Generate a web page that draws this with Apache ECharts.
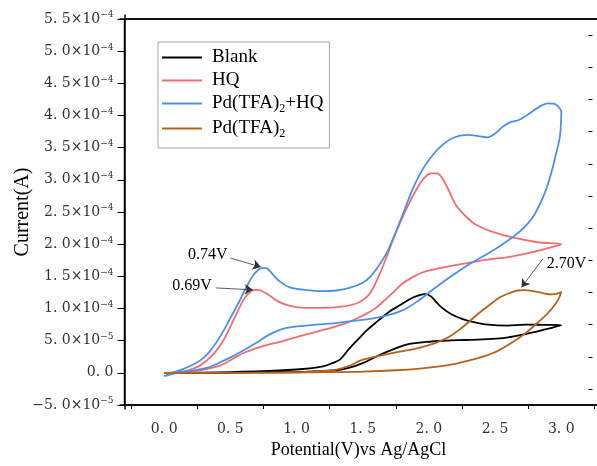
<!DOCTYPE html>
<html>
<head>
<meta charset="utf-8">
<script src="https://cdn.jsdelivr.net/npm/echarts@6/dist/echarts.min.js"></script>
<style>
  html, body { margin: 0; padding: 0; background: #fff; }
  #chart { width: 597px; height: 466px; }
</style>
</head>
<body>
<div id="chart"></div>
<script>
// potential (V) / current (x1e-4 A), forward sweep then return sweep
const blankCurve = [
  [0, 0], [0.5, 0.01], [0.9, 0.04], [1.10, 0.07], [1.20, 0.10], [1.27, 0.15], [1.33, 0.21],
  [1.40, 0.38], [1.47, 0.53], [1.53, 0.66], [1.61, 0.80], [1.70, 0.95], [1.78, 1.05],
  [1.88, 1.17], [1.95, 1.22], [1.98, 1.225], [2.02, 1.18], [2.06, 1.09], [2.10, 1.01],
  [2.17, 0.91], [2.25, 0.84], [2.34, 0.79], [2.45, 0.75], [2.59, 0.735], [2.73, 0.75],
  [2.87, 0.745], [3.00, 0.74],
  [2.85, 0.66], [2.70, 0.59], [2.56, 0.54], [2.41, 0.52], [2.27, 0.51], [2.13, 0.50],
  [1.98, 0.48], [1.83, 0.44], [1.70, 0.34], [1.60, 0.25], [1.50, 0.15], [1.40, 0.08],
  [1.30, 0.04], [1.10, 0.02], [0.80, 0.01], [0.40, 0], [0, 0]
];
const hqCurve = [
  [0, 0], [0.10, 0.01], [0.18, 0.04], [0.26, 0.10], [0.32, 0.19], [0.38, 0.31], [0.44, 0.48],
  [0.50, 0.72], [0.56, 0.98], [0.61, 1.17], [0.66, 1.27], [0.69, 1.29], [0.73, 1.28],
  [0.79, 1.21], [0.86, 1.11], [0.95, 1.04], [1.06, 1.01], [1.20, 1.01], [1.34, 1.03],
  [1.44, 1.07], [1.50, 1.13], [1.56, 1.25], [1.62, 1.50], [1.68, 1.80], [1.75, 2.18],
  [1.83, 2.55], [1.90, 2.83], [1.96, 3.02], [2.02, 3.10], [2.06, 3.10], [2.10, 3.03],
  [2.14, 2.88], [2.20, 2.62], [2.27, 2.45], [2.35, 2.31], [2.47, 2.20], [2.64, 2.10],
  [2.82, 2.03], [3.00, 2.00],
  [2.90, 1.94], [2.75, 1.86], [2.60, 1.80], [2.44, 1.76], [2.30, 1.71], [2.16, 1.66],
  [2.04, 1.61], [1.95, 1.56], [1.87, 1.48], [1.79, 1.37], [1.72, 1.23], [1.66, 1.12],
  [1.60, 1.01], [1.53, 0.92], [1.45, 0.84], [1.37, 0.77], [1.28, 0.71], [1.17, 0.65],
  [1.06, 0.59], [0.89, 0.49], [0.74, 0.41], [0.61, 0.32], [0.52, 0.22], [0.43, 0.12],
  [0.30, 0.05], [0.18, 0.01], [0, 0]
];
const pdHqCurve = [
  [0, -0.05], [0.06, 0], [0.13, 0.05], [0.20, 0.11], [0.27, 0.19], [0.33, 0.30], [0.39, 0.46],
  [0.45, 0.66], [0.51, 0.89], [0.57, 1.12], [0.62, 1.33], [0.67, 1.51], [0.71, 1.60],
  [0.75, 1.63], [0.78, 1.62], [0.82, 1.53], [0.88, 1.41], [0.95, 1.33], [1.06, 1.29],
  [1.20, 1.27], [1.30, 1.28], [1.40, 1.32], [1.50, 1.40], [1.56, 1.50], [1.62, 1.66],
  [1.68, 1.86], [1.74, 2.14], [1.80, 2.45], [1.87, 2.82], [1.93, 3.08], [1.99, 3.28],
  [2.08, 3.50], [2.18, 3.65], [2.29, 3.70], [2.40, 3.67], [2.44, 3.66], [2.50, 3.72],
  [2.56, 3.83], [2.62, 3.90], [2.68, 3.93], [2.76, 4.03], [2.83, 4.13], [2.90, 4.19],
  [2.95, 4.18], [2.98, 4.13], [3.00, 4.06],
  [2.99, 3.68], [2.96, 3.40], [2.93, 3.15], [2.88, 2.82], [2.80, 2.47], [2.72, 2.26],
  [2.64, 2.12], [2.52, 1.95], [2.40, 1.80], [2.29, 1.67], [2.16, 1.49], [2.04, 1.31],
  [1.92, 1.12], [1.80, 0.97], [1.66, 0.88], [1.53, 0.83], [1.40, 0.80], [1.28, 0.77],
  [1.15, 0.75], [1.05, 0.73], [0.99, 0.72], [0.89, 0.68], [0.79, 0.59], [0.69, 0.46],
  [0.60, 0.35], [0.52, 0.26], [0.43, 0.17], [0.33, 0.08], [0.20, 0.03], [0.10, 0], [0, -0.05]
];
const pdCurve = [
  [0, 0], [0.5, 0], [1.0, 0.01], [1.20, 0.03], [1.30, 0.05], [1.40, 0.11], [1.48, 0.19],
  [1.57, 0.24], [1.66, 0.28], [1.78, 0.33], [1.91, 0.38], [2.00, 0.43], [2.08, 0.49],
  [2.16, 0.57], [2.23, 0.67], [2.29, 0.77], [2.35, 0.88], [2.41, 0.98], [2.48, 1.09],
  [2.54, 1.18], [2.61, 1.24], [2.67, 1.28], [2.72, 1.285], [2.79, 1.27], [2.86, 1.24],
  [2.92, 1.22], [2.97, 1.23], [3.00, 1.26],
  [2.98, 1.15], [2.93, 1.00], [2.87, 0.87], [2.80, 0.74], [2.72, 0.60], [2.62, 0.46],
  [2.52, 0.34], [2.42, 0.26], [2.32, 0.20], [2.20, 0.14], [2.08, 0.10], [1.95, 0.07],
  [1.75, 0.04], [1.50, 0.02], [1.20, 0.01], [0.80, 0], [0, 0]
];

const seriesNames = ['Blank', 'HQ', 'Pd(TFA)2+HQ', 'Pd(TFA)2'];
const seriesColors = ['#000000', '#f06d70', '#4d90ea', '#b5621d'];
const xLabelValues = [0, 0.5, 1.0, 1.5, 2.0, 2.5, 3.0];
const xTickValues = [-0.25, 0.25, 0.75, 1.25, 1.75, 2.25, 2.75, 3.25];
const yLabelValues = [-0.00005, 0, 0.00005, 0.0001, 0.00015, 0.0002, 0.00025, 0.0003,
  0.00035, 0.0004, 0.00045, 0.0005, 0.00055];
const yMinorValues = [-0.000025, 0.000025, 0.000075, 0.000125, 0.000175, 0.000225, 0.000275,
  0.000325, 0.000375, 0.000425, 0.000475, 0.000525];

// visible plot frame (data extents) and the small margin the grid keeps beyond it
const xFrame = [-0.3, 3.27];
const yFrame = [-5e-5, 5.5e-4];
const GRID = { left: 120, right: 0, top: 15, bottom: 57 };
const PAD_X = 4.5, PAD_Y = 4;
const gridW = 597 - GRID.left - GRID.right;
const gridH = 466 - GRID.top - GRID.bottom;
const xPerPx = (xFrame[1] - xFrame[0]) / (gridW - PAD_X);
const yPerPx = (yFrame[1] - yFrame[0]) / (gridH - 2 * PAD_Y);
const xRange = [xFrame[0] - PAD_X * xPerPx, xFrame[1]];
const yRange = [yFrame[0] - PAD_Y * yPerPx, yFrame[1] + PAD_Y * yPerPx];

// peak annotations: text position, arrow start, arrow end (V / x1e-4 A)
const peakNotes = [
  { series: 2, text: '0.74V', at: [0.33, 1.84], from: [0.50, 1.785], to: [0.73, 1.645] },
  { series: 1, text: '0.69V', at: [0.21, 1.35], from: [0.39, 1.32], to: [0.67, 1.29] },
  { series: 3, text: '2.70V', at: [3.04, 1.69], from: [2.86, 1.77], to: [2.70, 1.33] }
];

const UNIT = 1e-4;
const toAmp = p => [p[0], p[1] * UNIT];

function sciLabel(v) {
  if (Math.abs(v) < 1e-12) return '{m|0. 0}';
  const e = Math.floor(Math.log10(Math.abs(v)) + 1e-9);
  const m = (v / Math.pow(10, e)).toFixed(1).replace('-', '−').replace('.', '. ');
  return '{m|' + m + '×10}{e|−' + (-e) + '}';
}

function legendLabel(name) {
  if (name === 'Pd(TFA)2+HQ') return '{n|Pd(TFA)}{s|2}{n|+HQ}';
  if (name === 'Pd(TFA)2') return '{n|Pd(TFA)}{s|2}';
  return '{n|' + name + '}';
}

const chart = echarts.init(document.getElementById('chart'));
const curves = [blankCurve, hqCurve, pdHqCurve, pdCurve];

const series = curves.map((c, i) => {
  const notes = peakNotes.filter(n => n.series === i);
  return {
    name: seriesNames[i],
    type: 'line',
    data: c.map(toAmp),
    showSymbol: false,
    smooth: 0.35,
    lineStyle: { color: seriesColors[i], width: 1.8 },
    itemStyle: { color: seriesColors[i] },
    z: 2 + i,
    markLine: notes.length ? {
      silent: true,
      symbol: ['none', 'arrow'],
      symbolSize: 8,
      label: { show: false },
      lineStyle: { color: '#333', width: 0.8, type: 'solid' },
      data: notes.map(n => [{ coord: toAmp(n.from) }, { coord: toAmp(n.to) }])
    } : undefined,
    markPoint: notes.length ? {
      silent: true,
      symbol: 'circle',
      symbolSize: 0,
      label: {
        show: true,
        position: 'inside',
        formatter: '{b}',
        color: '#000',
        fontFamily: 'Liberation Serif',
        fontSize: 16
      },
      data: notes.map(n => ({ name: n.text, coord: toAmp(n.at) }))
    } : undefined
  };
});

// frame edges (left+bottom, top) along the visible extents, inside the grid
[
  [[xFrame[0], yFrame[1]], [xFrame[0], yFrame[0]], [xFrame[1], yFrame[0]]],
  [[xFrame[0], yFrame[1]], [xFrame[1], yFrame[1]]]
].forEach(edge => {
  series.push({
    type: 'line',
    data: edge,
    showSymbol: false,
    silent: true,
    clip: false,
    z: 20,
    lineStyle: { color: '#000', width: 1.5 }
  });
});

const noSplit = { show: false };

chart.setOption({
  animation: false,
  grid: {
    left: GRID.left, right: GRID.right, top: GRID.top, bottom: GRID.bottom,
    outerBoundsMode: 'none'
  },
  legend: {
    orient: 'vertical',
    left: 158, top: 42,
    padding: [6, 6, 8, 4],
    itemWidth: 40, itemHeight: 14, itemGap: 4,
    borderColor: '#a8a8a8', borderWidth: 1,
    icon: 'path://M0,6L40,6L40,8L0,8Z',
    data: seriesNames,
    formatter: legendLabel,
    textStyle: {
      padding: [0, 0, 0, 5],
      rich: {
        n: { fontFamily: 'Liberation Serif', fontSize: 19, color: '#000', lineHeight: 20 },
        s: { fontFamily: 'Liberation Serif', fontSize: 12, color: '#000', padding: [11, 0, 0, 0] }
      }
    }
  },
  xAxis: [{
    type: 'value',
    min: xRange[0], max: xRange[1],
    offset: -PAD_Y,
    name: 'Potential(V)vs Ag/AgCl',
    nameLocation: 'middle',
    nameGap: 36,
    nameMoveOverlap: false,
    nameTextStyle: { fontFamily: 'Liberation Serif', fontSize: 18, color: '#000' },
    axisLine: { show: true, onZero: false, lineStyle: { color: '#000', width: 1.5 } },
    axisTick: { show: true, length: 4, customValues: xTickValues, lineStyle: { color: '#000' } },
    axisLabel: {
      customValues: xLabelValues,
      margin: 17,
      fontFamily: 'DejaVu Serif', fontSize: 14, color: '#333',
      formatter: v => v.toFixed(1).replace('.', '. ')
    },
    splitLine: noSplit
  }, {
    type: 'value',
    position: 'top',
    min: xRange[0], max: xRange[1],
    offset: -PAD_Y,
    axisLine: { show: true, onZero: false, lineStyle: { color: '#000', width: 1.5 } },
    axisTick: { show: false },
    axisLabel: { show: false },
    splitLine: noSplit
  }],
  yAxis: [{
    type: 'value',
    min: yRange[0], max: yRange[1],
    offset: -PAD_X,
    name: 'Current(A)',
    nameLocation: 'middle',
    nameGap: 92,
    nameMoveOverlap: false,
    nameTextStyle: { fontFamily: 'Liberation Serif', fontSize: 20, color: '#000' },
    axisLine: { show: true, onZero: false, lineStyle: { color: '#000', width: 1.5 } },
    axisTick: { show: true, length: 7, customValues: yLabelValues, lineStyle: { color: '#000' } },
    axisLabel: {
      customValues: yLabelValues,
      margin: 11,
      formatter: sciLabel,
      rich: {
        m: { fontFamily: 'DejaVu Serif', fontSize: 14, color: '#333', lineHeight: 16 },
        e: { fontFamily: 'DejaVu Serif', fontSize: 9, color: '#333', verticalAlign: 'top', padding: [0, 0, 8, 0] }
      }
    },
    splitLine: noSplit
  }, {
    // minor ticks: a right-side axis shifted onto the left frame, ticks pointing outward
    type: 'value',
    position: 'right',
    min: yRange[0], max: yRange[1],
    offset: -(gridW - PAD_X),
    axisLine: { show: false },
    axisTick: { show: true, inside: true, length: 4, customValues: yMinorValues, lineStyle: { color: '#000' } },
    axisLabel: { show: false },
    splitLine: noSplit
  }],
  series: series
});

window.addEventListener('resize', () => chart.resize());
</script>
</body>
</html>
